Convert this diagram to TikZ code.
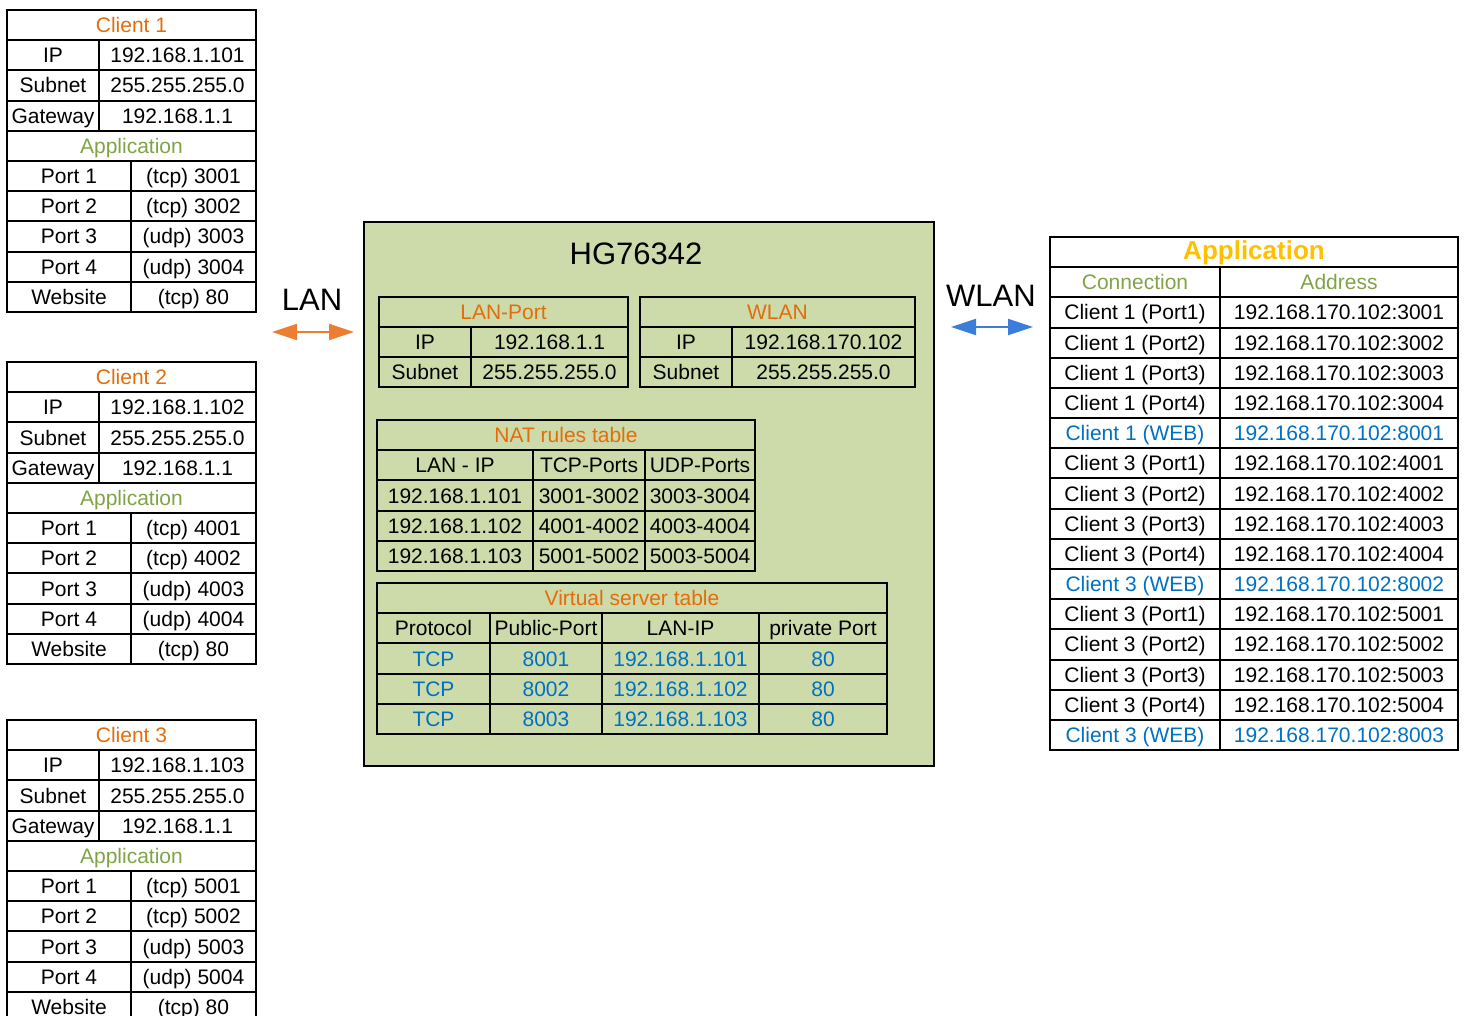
\documentclass[tikz,border=0pt]{standalone}
\usepackage{fontspec}
\setmainfont{Liberation Sans}
\usetikzlibrary{arrows.meta}
\definecolor{rtr}{HTML}{CDDBAA}
\definecolor{ttl}{HTML}{E46C0A}
\definecolor{app}{HTML}{80A445}
\definecolor{web}{HTML}{0070C0}
\definecolor{gold}{HTML}{FFC000}
\definecolor{lanc}{HTML}{ED7D31}
\definecolor{wlanc}{HTML}{3B7DD8}

\begin{document}
\begin{tikzpicture}[x=0.5pt, y=-0.5pt,
  cell/.style={draw, line width=1pt, inner sep=0pt, outer sep=0pt,
    anchor=north west, minimum height=15.1pt, minimum width=#1*0.5pt,
    font=\fontsize{10.5}{12}\selectfont, text height=7.5pt, text depth=0pt},
  big/.style={font=\fontsize{15.5}{18}\selectfont},
  link/.style={line width=1pt,
    {Triangle[length=12.5pt, width=8pt]}-{Triangle[length=12.5pt, width=8pt]}}]
\useasboundingbox (0,0) rectangle (1468,1016);

% clients on the LAN side
\foreach \cid/\ytop/\host/\pre in {1/10/101/3, 2/362/102/4, 3/720/103/5}{
  \node[cell=249, text=ttl] (c\cid-head) at (7,\ytop) {Client \cid};
  \foreach \key/\val [count=\r] in {IP/192.168.1.\host, Subnet/255.255.255.0, Gateway/192.168.1.1}{
    \node[cell=92] (c\cid-k\r) at (7,\ytop+\r*30.2) {\key};
    \node[cell=157] (c\cid-v\r) at (99,\ytop+\r*30.2) {\val};
  }
  \node[cell=249, text=app] (c\cid-app) at (7,\ytop+4*30.2) {Application};
  \foreach \key/\val [count=\r from 5] in {Port 1/(tcp) \pre001, Port 2/(tcp) \pre002,
      Port 3/(udp) \pre003, Port 4/(udp) \pre004, Website/(tcp) 80}{
    \node[cell=124] (c\cid-k\r) at (7,\ytop+\r*30.2) {\key};
    \node[cell=125] (c\cid-v\r) at (131,\ytop+\r*30.2) {\val};
  }
}

% router
\node[draw, line width=0.8pt, fill=rtr, inner sep=0pt, outer sep=0pt, anchor=north west,
  minimum width=285pt, minimum height=272pt] (router) at (364,222) {};
\node[big] (model) at (636,254) {HG76342};

\node[cell=249, text=ttl] (lanp-head) at (379,297) {LAN-Port};
\node[cell=92] (lanp-k1) at (379,327) {IP};
\node[cell=157] (lanp-v1) at (471,327) {192.168.1.1};
\node[cell=92] (lanp-k2) at (379,357) {Subnet};
\node[cell=157] (lanp-v2) at (471,357) {255.255.255.0};

\node[cell=275, text=ttl] (wlan-head) at (640,297) {WLAN};
\node[cell=92] (wlan-k1) at (640,327) {IP};
\node[cell=183] (wlan-v1) at (732,327) {192.168.170.102};
\node[cell=92] (wlan-k2) at (640,357) {Subnet};
\node[cell=183] (wlan-v2) at (732,357) {255.255.255.0};

% NAT rules
\node[cell=378, text=ttl] (nat-head) at (377,420) {NAT rules table};
\foreach \ip/\tcpp/\udpp [count=\r] in {LAN - IP/TCP-Ports/UDP-Ports,
    192.168.1.101/3001-3002/3003-3004, 192.168.1.102/4001-4002/4003-4004,
    192.168.1.103/5001-5002/5003-5004}{
  \node[cell=156] (nat-a\r) at (377,420+\r*30.2) {\ip};
  \node[cell=112] (nat-b\r) at (533,420+\r*30.2) {\tcpp};
  \node[cell=110] (nat-c\r) at (645,420+\r*30.2) {\udpp};
}

% virtual servers
\node[cell=510, text=ttl] (vs-head) at (377,583) {Virtual server table};
\node[cell=113] (vs-a0) at (377,613.2) {Protocol};
\node[cell=112] (vs-b0) at (490,613.2) {Public-Port};
\node[cell=157] (vs-c0) at (602,613.2) {LAN-IP};
\node[cell=128] (vs-d0) at (759,613.2) {private Port};
\foreach \r in {1,2,3}{
  \node[cell=113, text=web] (vs-a\r) at (377,613.2+\r*30.2) {TCP};
  \node[cell=112, text=web] (vs-b\r) at (490,613.2+\r*30.2) {800\r};
  \node[cell=157, text=web] (vs-c\r) at (602,613.2+\r*30.2) {192.168.1.10\r};
  \node[cell=128, text=web] (vs-d\r) at (759,613.2+\r*30.2) {80};
}

% application on the WLAN side
\node[cell=408, text=gold, font=\fontsize{13}{15}\bfseries] (wapp-head) at (1050,237) {Application};
\node[cell=170, text=app] (wapp-k1) at (1050,267.18) {Connection};
\node[cell=238, text=app] (wapp-v1) at (1220,267.18) {Address};
\foreach \con/\adr/\tc [count=\r from 2] in {
    Client 1 (Port1)/192.168.170.102:3001/black, Client 1 (Port2)/192.168.170.102:3002/black,
    Client 1 (Port3)/192.168.170.102:3003/black, Client 1 (Port4)/192.168.170.102:3004/black,
    Client 1 (WEB)/192.168.170.102:8001/web,
    Client 3 (Port1)/192.168.170.102:4001/black, Client 3 (Port2)/192.168.170.102:4002/black,
    Client 3 (Port3)/192.168.170.102:4003/black, Client 3 (Port4)/192.168.170.102:4004/black,
    Client 3 (WEB)/192.168.170.102:8002/web,
    Client 3 (Port1)/192.168.170.102:5001/black, Client 3 (Port2)/192.168.170.102:5002/black,
    Client 3 (Port3)/192.168.170.102:5003/black, Client 3 (Port4)/192.168.170.102:5004/black,
    Client 3 (WEB)/192.168.170.102:8003/web}{
  \node[cell=170, text=\tc] (wapp-k\r) at (1050,237+\r*30.18) {\con};
  \node[cell=238, text=\tc] (wapp-v\r) at (1220,237+\r*30.18) {\adr};
}

% links
\node[big] (lan) at (312,300) {LAN};
\coordinate (lanL) at (272,332);
\coordinate (lanR) at (354,332);
\draw[link, lanc] (lanL) -- (lanR);
\node[big] (wlan) at (991,296) {WLAN};
\coordinate (wlanL) at (951,327);
\coordinate (wlanR) at (1033,327);
\draw[link, wlanc] (wlanL) -- (wlanR);
\end{tikzpicture}
\end{document}
